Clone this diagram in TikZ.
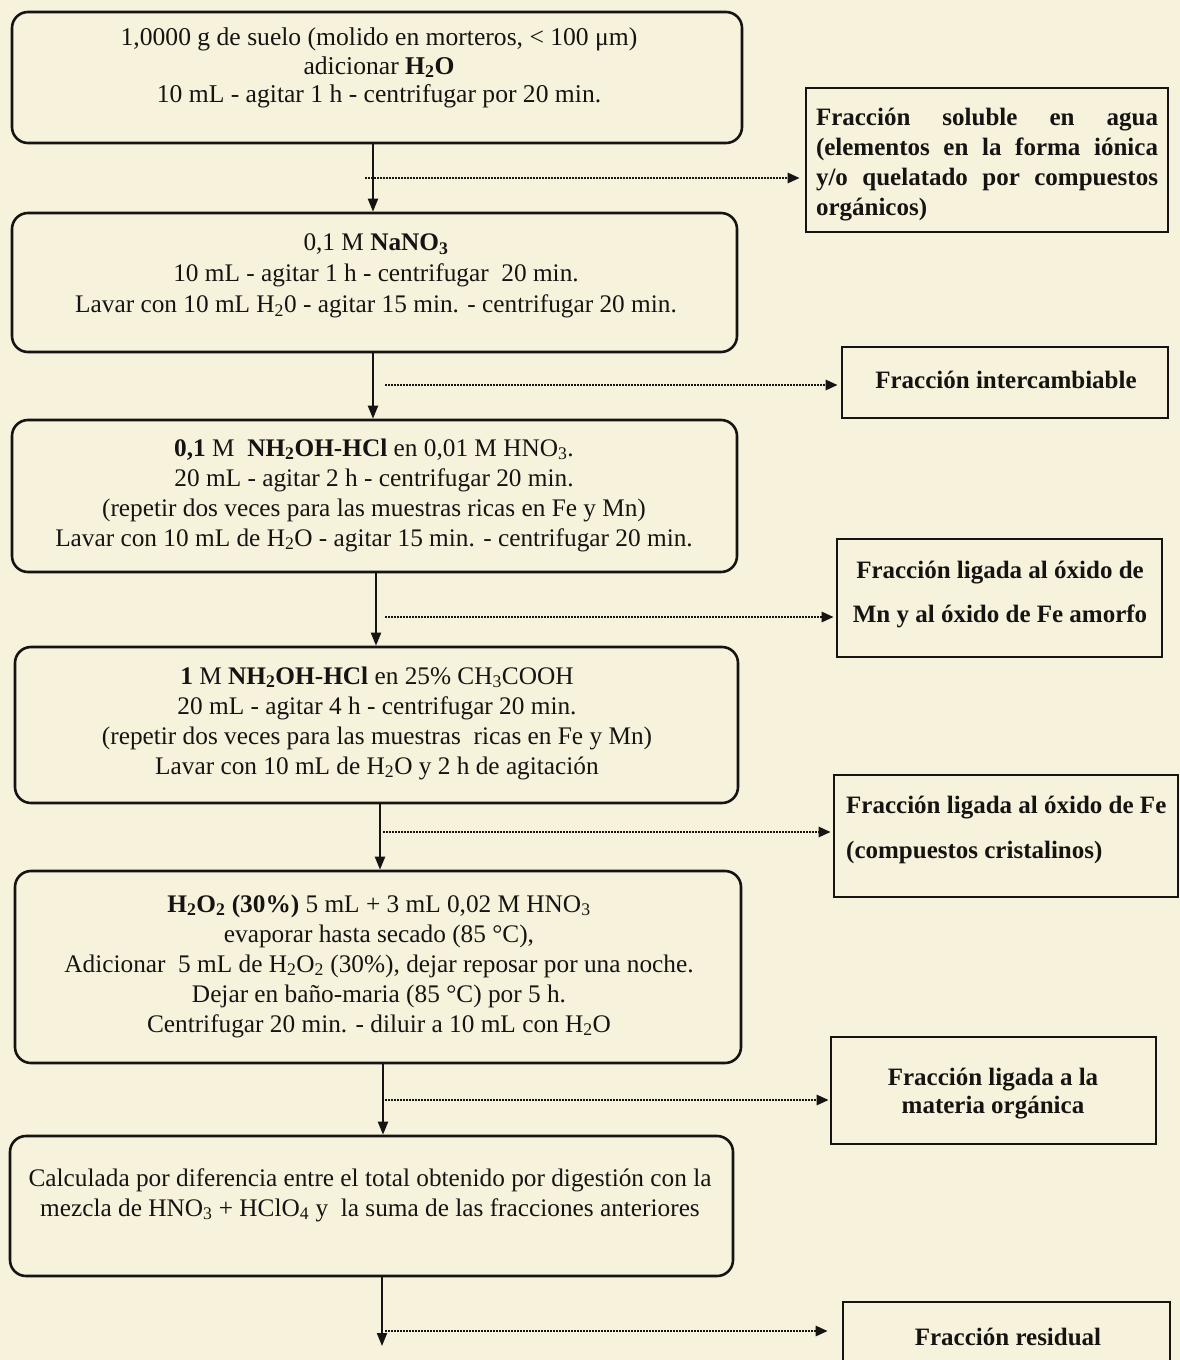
\documentclass[tikz,border=0pt]{standalone}
\usepackage{fontspec}
\setmainfont{Liberation Serif}
\usetikzlibrary{arrows.meta,calc}
\definecolor{paper}{RGB}{247,242,220}
\definecolor{ink}{RGB}{22,20,18}
\begin{document}
\begin{tikzpicture}[x=1pt,y=-1pt,
  procbox/.style={draw=ink, line width=2.6pt, rounded corners=16pt, inner sep=0pt},
  fracbox/.style={draw=ink, line width=2.6pt, inner sep=0pt},
  proctext/.style={inner sep=0pt, align=center, text=ink, font=\fontsize{25.3}{30}\selectfont},
  fractext/.style={inner sep=0pt, align=center, text=ink, font=\fontsize{25}{30}\selectfont\bfseries},
  arr/.style={draw=ink, line width=2pt, -{Triangle[length=13pt,width=10pt]}},
  dotarr/.style={draw=ink, line width=2.6pt, dash pattern=on 1.6pt off 1.4pt, -{Triangle[length=12pt,width=10pt]}}
]
\fill[paper] (0,0) rectangle (1180,1360);
\useasboundingbox (0,0) rectangle (1180,1360);
\clip (0,0) rectangle (1180,1360);

% process boxes
\node[procbox, minimum width=730pt, minimum height=131pt] (b1) at (377,77.5) {};
\node[procbox, minimum width=725pt, minimum height=139pt] (b2) at (374.5,282.5) {};
\node[procbox, minimum width=725pt, minimum height=152pt] (b3) at (374.5,496) {};
\node[procbox, minimum width=723pt, minimum height=156pt] (b4) at (376.5,725) {};
\node[procbox, minimum width=726pt, minimum height=192pt] (b5) at (378,967) {};
\node[procbox, minimum width=723pt, minimum height=140pt] (b6) at (371.5,1206) {};

\node[proctext, font=\fontsize{25.6}{28.5}\selectfont] (t1) at (379,68) {1,0000 g de suelo (molido en morteros, < 100 μm)\\
adicionar \textbf{H\textsubscript{2}O}\\
10 mL - agitar 1 h - centrifugar por 20 min.};
\node[proctext, font=\fontsize{25.3}{31}\selectfont] (t2) at (376,276) {0,1 M \textbf{NaNO\textsubscript{3}}\\
10 mL - agitar 1 h - centrifugar~ 20 min.\\
Lavar con 10 mL H\textsubscript{2}0 - agitar 15 min. - centrifugar 20 min.};
\node[proctext] (t3) at (374,495) {\textbf{0,1} M~ \textbf{NH\textsubscript{2}OH-HCl} en 0,01 M HNO\textsubscript{3}.\\
20 mL - agitar 2 h - centrifugar 20 min.\\
(repetir dos veces para las muestras ricas en Fe y Mn)\\
Lavar con 10 mL de H\textsubscript{2}O - agitar 15 min. - centrifugar 20 min.};
\node[proctext] (t4) at (377,723) {\textbf{1} M \textbf{NH\textsubscript{2}OH-HCl} en 25\% CH\textsubscript{3}COOH\\
20 mL - agitar 4 h - centrifugar 20 min.\\
(repetir dos veces para las muestras~ ricas en Fe y Mn)\\
Lavar con 10 mL de H\textsubscript{2}O y 2 h de agitación};
\node[proctext] (t5) at (379,966) {\textbf{H\textsubscript{2}O\textsubscript{2} (30\%)} 5 mL + 3 mL 0,02 M HNO\textsubscript{3}\\
evaporar hasta secado (85 °C),\\
Adicionar~ 5 mL de H\textsubscript{2}O\textsubscript{2} (30\%), dejar reposar por una noche.\\
Dejar en baño-maria (85 °C) por 5 h.\\
Centrifugar 20 min. - diluir a 10 mL con H\textsubscript{2}O};
\node[proctext] (t6) at (370,1195) {Calculada por diferencia entre el total obtenido por digestión con la\\
mezcla de HNO\textsubscript{3} + HClO\textsubscript{4} y~ la suma de las fracciones anteriores};

% fraction boxes
\node[fracbox, minimum width=362pt, minimum height=144pt] (f1) at (987,160) {};
\node[fracbox, minimum width=326pt, minimum height=71pt] (f2) at (1005,382.5) {};
\node[fracbox, minimum width=325pt, minimum height=118pt] (f3) at (999.5,598) {};
\node[fracbox, minimum width=344pt, minimum height=122pt] (f4) at (1006,836) {};
\node[fracbox, minimum width=325pt, minimum height=107pt] (f5) at (993.5,1090.5) {};
\node[fracbox, minimum width=327pt, minimum height=98pt] (f6) at (1006.5,1351) {};

\node[fractext, text width=342pt, align=justify] (g1) at (987,165) {Fracción soluble en agua\linebreak (elementos en la forma iónica\linebreak y/o quelatado por compuestos\linebreak orgánicos)};
\node[fractext] (g2) at (1006,380) {Fracción intercambiable};
\node[fractext, font=\fontsize{25}{44}\selectfont\bfseries] (g3) at (1000,595) {Fracción ligada al óxido de\\ Mn y al óxido de Fe amorfo};
\node[fractext, font=\fontsize{25}{45}\selectfont\bfseries, align=left, anchor=west] (g4) at (846,830) {Fracción ligada al óxido de Fe\\ (compuestos cristalinos)};
\node[fractext, font=\fontsize{25}{28}\selectfont\bfseries] (g5) at (993,1094) {Fracción ligada a la\\ materia orgánica};
\node[fractext] (g6) at (1008,1337) {Fracción residual};

% vertical connectors
\coordinate (v1) at (373,0);
\coordinate (v2) at (373,0);
\coordinate (v3) at (376,0);
\coordinate (v4) at (380,0);
\coordinate (v5) at (383,0);
\coordinate (v6) at (382,0);
\coordinate (e6) at (382,1346);
\draw[arr] (b1.south -| v1) -- (b2.north -| v1);
\draw[arr] (b2.south -| v2) -- (b3.north -| v2);
\draw[arr] (b3.south -| v3) -- (b4.north -| v3);
\draw[arr] (b4.south -| v4) -- (b5.north -| v4);
\draw[arr] (b5.south -| v5) -- (b6.north -| v5);
\draw[arr] (b6.south -| v6) -- (e6);

% dotted connectors
\coordinate (d1) at (365,178);
\coordinate (d2) at (385,385);
\coordinate (d3) at (385,617);
\coordinate (d4) at (383,832);
\coordinate (d5) at (385,1100);
\coordinate (d6) at (385,1331);
\draw[dotarr] (d1) -- ($(d1 -| f1.west)+(-5,0)$);
\draw[dotarr] (d2) -- ($(d2 -| f2.west)+(-3,0)$);
\draw[dotarr] (d3) -- ($(d3 -| f3.west)+(-2,0)$);
\draw[dotarr] (d4) -- ($(d4 -| f4.west)+(-2,0)$);
\draw[dotarr] (d5) -- ($(d5 -| f5.west)+(-1,0)$);
\draw[dotarr] (d6) -- ($(d6 -| f6.west)+(-14,0)$);
\end{tikzpicture}
\end{document}
